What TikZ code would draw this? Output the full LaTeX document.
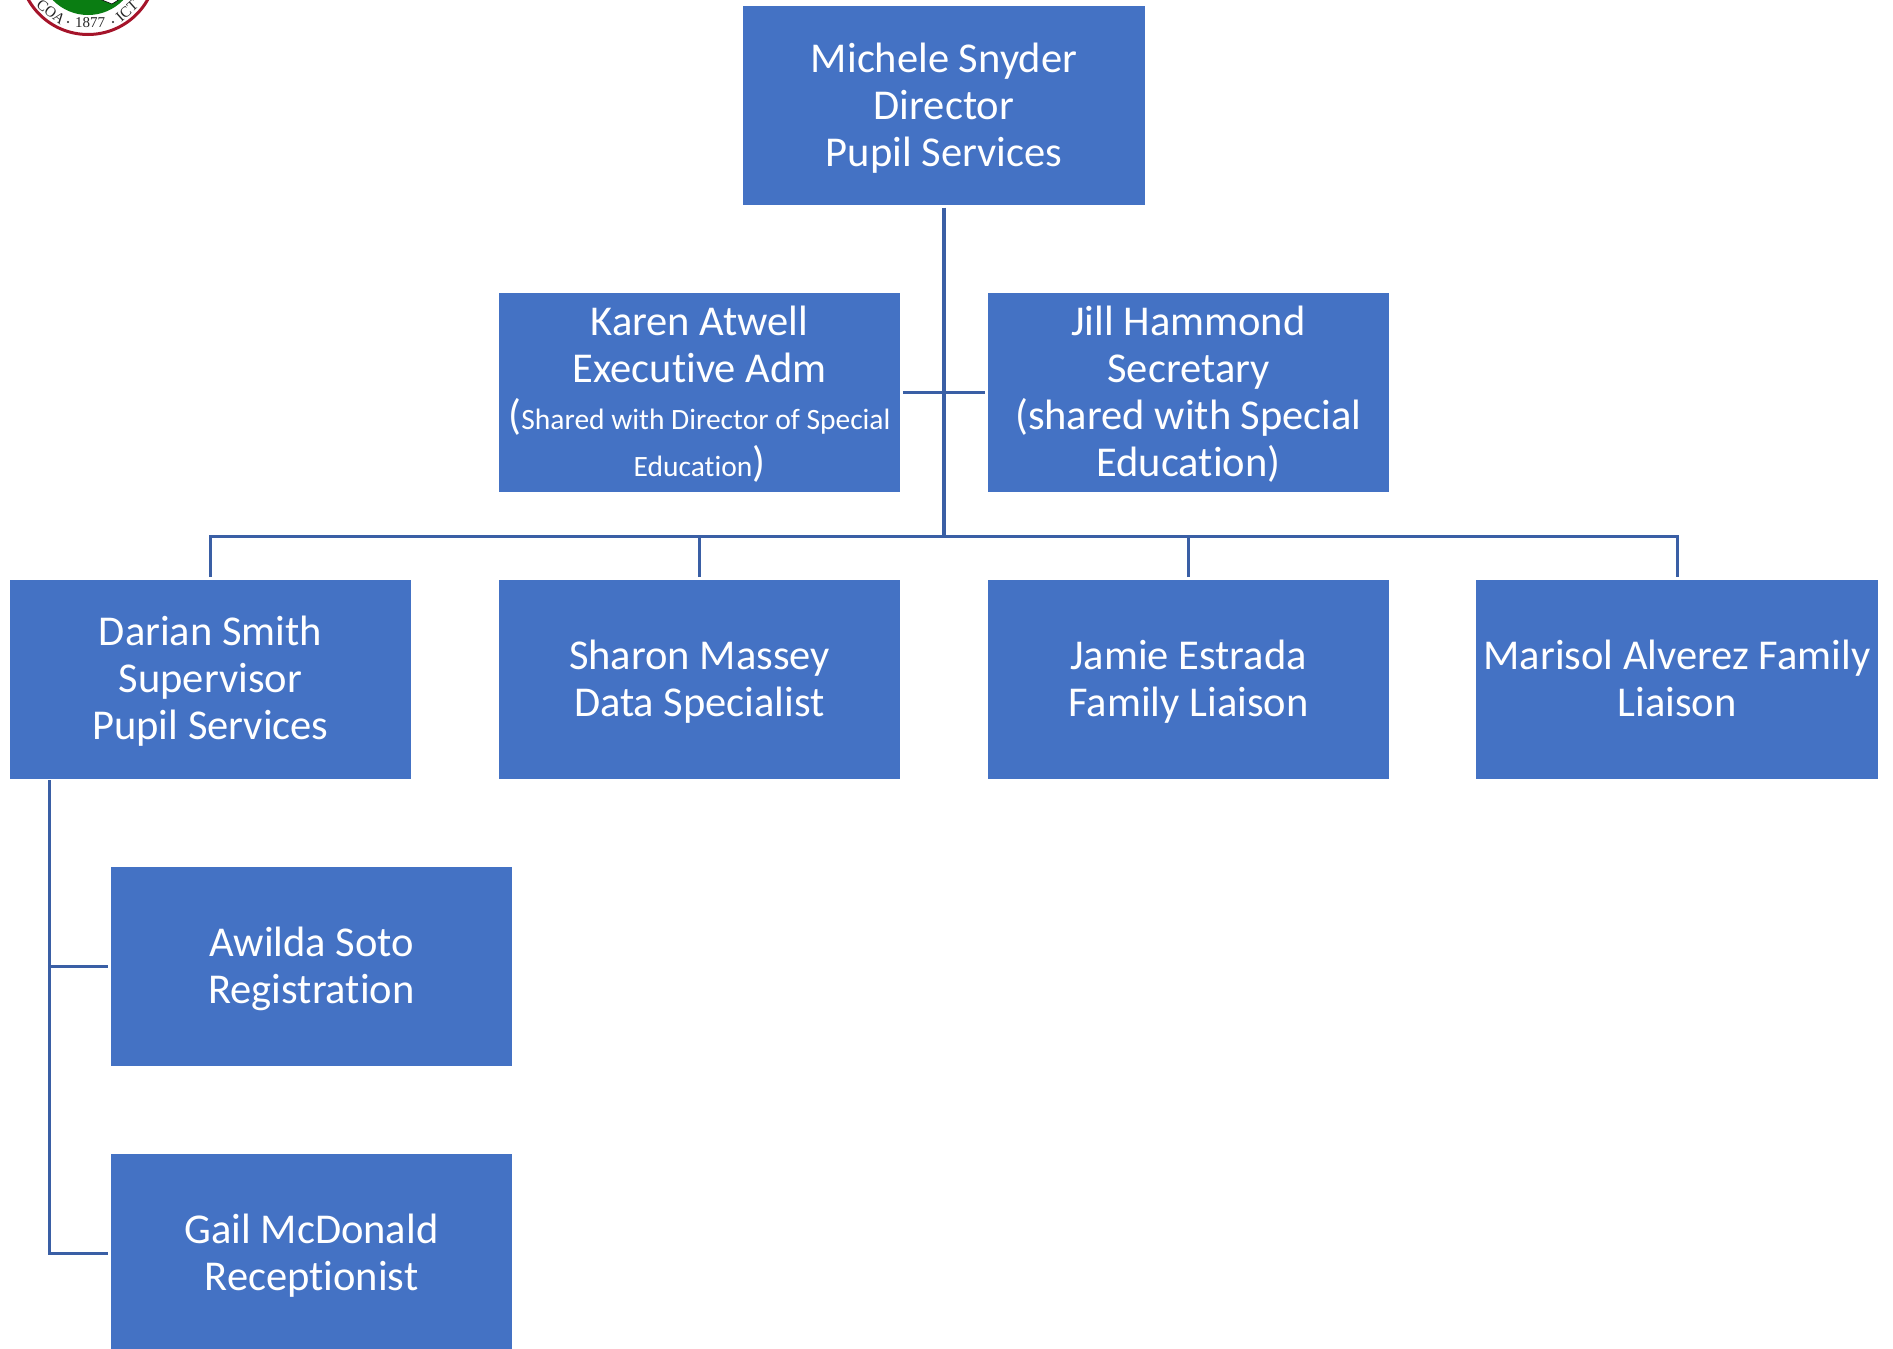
\documentclass[tikz,border=0pt]{standalone}
\usepackage{fontspec}
\usepackage{xcolor}
\setmainfont{Carlito}[Ligatures=NoCommon]
\newfontfamily\sealserif{Liberation Serif}
\definecolor{boxblue}{HTML}{4472C4}
\definecolor{linkblue}{HTML}{3A5FA5}
\definecolor{sealred}{HTML}{A5142A}
\definecolor{sealgreen}{HTML}{0A7D12}
\newcommand{\boxfont}{\fontsize{42.5}{47}\selectfont}
\newcommand{\smallfont}{\fontsize{29.5}{47}\selectfont}
\newcommand{\firstline}{\rule{0pt}{41pt}}
\tikzset{
    person/.style={fill=boxblue, text=white, minimum width=401.5pt, minimum height=199pt,
        inner sep=0pt, outer sep=2.5pt, align=center, font=\boxfont,
        execute at end node=\rule[-14pt]{0pt}{14pt}},
    sealtext/.style={font=\sealserif\fontsize{15}{15}\selectfont, inner sep=0pt, text=black!85},
    link/.style={draw=linkblue, line width=3pt},
    trunk/.style={draw=linkblue, line width=4pt}
}

\begin{document}
\begin{tikzpicture}[x=1pt, y=-1pt]
    \useasboundingbox (0,0) rectangle (1893,1349);
    \clip (0,0) rectangle (1893,1349);

    % School seal, cut by the page edge
    \draw[sealred, line width=3pt, fill=white] (88,-34) circle (68.5);
    \fill[sealgreen] (88,-34) circle (49);
    \fill[white, draw=black, line width=0.6pt] (92,-4) -- (112,4) -- (128,-6) -- (108,-14) -- cycle;
    \node[sealtext] (sealyear) at (90,23) {1877};
    \node[sealtext, rotate=-38] (sealleft) at (51,12) {COA};
    \node[sealtext, rotate=42] (sealright) at (127,11) {ICT};
    \fill[black!85] (68,22) circle (1.2) (113,22) circle (1.2);

    % Top of the chart
    \node[person] (director) at (944,105.5) {\firstline Michele Snyder\\Director\\Pupil Services};
    \node[person] (karen) at (699.5,392.5) {\firstline Karen Atwell\\Executive Adm\\({\smallfont Shared with Director of Special}\\{\smallfont Education})};
    \node[person] (jill) at (1188.5,392.5) {\firstline Jill Hammond\\Secretary\\(shared with Special\\Education)};

    % Middle row
    \node[person] (darian) at (210.5,679) {\firstline Darian Smith\\Supervisor\\Pupil Services};
    \node[person] (sharon) at (699.5,679) {\firstline Sharon Massey\\Data Specialist};
    \node[person] (jamie) at (1188.5,679) {\firstline Jamie Estrada\\Family Liaison};
    \node[person] (marisol) at (1677,679) {\firstline Marisol Alverez Family\\Liaison};

    % Under the supervisor
    \node[person] (awilda) at (311.5,966) {\firstline Awilda Soto\\Registration};
    \node[person] (gail) at (311.5,1253) {\firstline Gail McDonald\\Receptionist};

    \coordinate (bus) at (944,536);
    \coordinate (drop) at (49,780);

    \draw[trunk] (director.south) -- (bus);
    \draw[link] (karen.east) -- (jill.west);
    \draw[link] (darian.north) |- (bus) -| (marisol.north);
    \draw[link] (sharon.north) -- (sharon.north |- bus);
    \draw[link] (jamie.north) -- (jamie.north |- bus);
    \draw[link] (drop) |- (gail.west);
    \draw[link] (drop |- awilda.west) -- (awilda.west);
\end{tikzpicture}
\end{document}
